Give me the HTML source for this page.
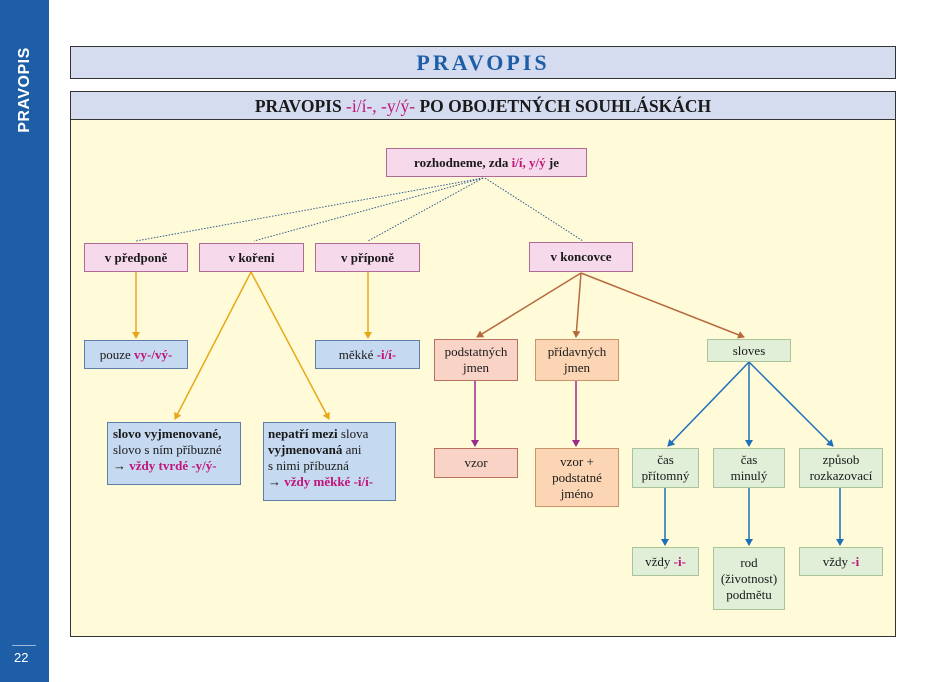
<!DOCTYPE html>
<html><head><meta charset="utf-8"><style>
*{margin:0;padding:0;box-sizing:border-box}
body{width:950px;height:682px;background:#fff;position:relative;overflow:hidden;font-family:"Liberation Serif",serif;color:#1a1a1a}
.side{position:absolute;left:0;top:0;width:49px;height:682px;background:#1d5ea6}
.stitle{position:absolute;left:25px;top:90px;transform:translate(-50%,-50%) rotate(-90deg);color:#fff;font:bold 16px "Liberation Sans",sans-serif;letter-spacing:0.5px;white-space:nowrap}
.pn{position:absolute;left:14px;top:650px;color:#fff;font:13px "Liberation Sans",sans-serif}
.pl{position:absolute;left:12px;top:645px;width:24px;height:1px;background:#9fb8d8}
.b{position:absolute;border:1px solid #888;display:flex;align-items:center;justify-content:center;text-align:center;font-size:13px;line-height:16px}
.m{color:#c0157a;font-weight:bold}
.pink{background:#f7d9ec;border-color:#b06a96;font-weight:bold}
.blue{background:#c5d9f0;border-color:#5f7fa8}
.sal{background:#f9d3c6;border-color:#b87060}
.or{background:#fbd5b4;border-color:#c8956a}
.gr{background:#e1eed8;border-color:#a9c49a}
</style></head><body>
<div class="side"></div><div class="stitle">PRAVOPIS</div><div class="pl"></div><div class="pn">22</div>
<div class="b" style="left:70px;top:46px;width:826px;height:33px;background:#d5dcf0;border:1px solid #333;color:#1d5ea6;font-weight:bold;font-size:22px;letter-spacing:3px">PRAVOPIS</div>
<div style="position:absolute;left:70px;top:91px;width:826px;height:546px;background:#fffbd9;border:1px solid #333"></div>
<div class="b" style="left:70px;top:91px;width:826px;height:29px;background:#d5dcf0;border:1px solid #333;font-weight:bold;font-size:17.5px">PRAVOPIS&nbsp;<span class="m" style="font-weight:normal">-i/í-, -y/ý-</span>&nbsp;PO OBOJETNÝCH SOUHLÁSKÁCH</div>
<svg style="position:absolute;left:0;top:0" width="950" height="682">
<defs>
<marker id="ao" markerWidth="8" markerHeight="8" refX="6" refY="4" orient="auto" markerUnits="userSpaceOnUse"><path d="M0,0L7,4L0,8z" fill="#e8a81a"/></marker>
<marker id="ab" markerWidth="8" markerHeight="8" refX="6" refY="4" orient="auto" markerUnits="userSpaceOnUse"><path d="M0,0L7,4L0,8z" fill="#b66a3c"/></marker>
<marker id="ap" markerWidth="8" markerHeight="8" refX="6" refY="4" orient="auto" markerUnits="userSpaceOnUse"><path d="M0,0L7,4L0,8z" fill="#9a2a8a"/></marker>
<marker id="al" markerWidth="8" markerHeight="8" refX="6" refY="4" orient="auto" markerUnits="userSpaceOnUse"><path d="M0,0L7,4L0,8z" fill="#1c6fb8"/></marker>
</defs>
<g stroke="#2f5a8a" stroke-width="1" stroke-dasharray="1.5,1.5" fill="none">
<line x1="483" y1="178" x2="136" y2="241"/><line x1="483" y1="178" x2="254" y2="241"/><line x1="483" y1="178" x2="368" y2="241"/><line x1="485" y1="178" x2="583" y2="241"/>
</g>
<g stroke="#e8a81a" stroke-width="1.5" marker-end="url(#ao)">
<line x1="136" y1="272" x2="136" y2="338"/><line x1="251" y1="272" x2="175" y2="419"/><line x1="251" y1="272" x2="329" y2="419"/><line x1="368" y1="272" x2="368" y2="338"/>
</g>
<g stroke="#b66a3c" stroke-width="1.5" marker-end="url(#ab)">
<line x1="581" y1="273" x2="477" y2="337"/><line x1="581" y1="273" x2="576" y2="337"/><line x1="581" y1="273" x2="744" y2="337"/>
</g>
<g stroke="#9a2a8a" stroke-width="1.5" marker-end="url(#ap)">
<line x1="475" y1="381" x2="475" y2="446"/><line x1="576" y1="381" x2="576" y2="446"/>
</g>
<g stroke="#1c6fb8" stroke-width="1.5" marker-end="url(#al)">
<line x1="749" y1="362" x2="668" y2="446"/><line x1="749" y1="362" x2="749" y2="446"/><line x1="749" y1="362" x2="833" y2="446"/>
<line x1="665" y1="488" x2="665" y2="545"/><line x1="749" y1="488" x2="749" y2="545"/><line x1="840" y1="488" x2="840" y2="545"/>
</g>
</svg>
<div class="b pink" style="left:386px;top:148px;width:201px;height:29px">rozhodneme, zda&nbsp;<span class="m">i/í, y/ý</span>&nbsp;je</div>
<div class="b pink" style="left:84px;top:243px;width:104px;height:29px">v předponě</div>
<div class="b pink" style="left:199px;top:243px;width:105px;height:29px">v kořeni</div>
<div class="b pink" style="left:315px;top:243px;width:105px;height:29px">v příponě</div>
<div class="b pink" style="left:529px;top:242px;width:104px;height:30px">v koncovce</div>
<div class="b blue" style="left:84px;top:340px;width:104px;height:29px">pouze&nbsp;<span class="m">vy-/vý-</span></div>
<div class="b blue" style="left:315px;top:340px;width:105px;height:29px">měkké&nbsp;<span class="m">-i/í-</span></div>
<div class="b blue" style="left:107px;top:422px;width:134px;height:63px;display:block;text-align:left;padding:3px 0 0 5px"><b>slovo vyjmenované,</b><br>slovo s ním příbuzné<br>→ <span class="m">vždy tvrdé -y/ý-</span></div>
<div class="b blue" style="left:263px;top:422px;width:133px;height:79px;display:block;text-align:left;padding:3px 0 0 4px"><b>nepatří mezi</b> slova<br><b>vyjmenovaná</b> ani<br>s nimi příbuzná<br>→ <span class="m">vždy měkké -i/í-</span></div>
<div class="b sal" style="left:434px;top:339px;width:84px;height:42px">podstatných<br>jmen</div>
<div class="b or" style="left:535px;top:339px;width:84px;height:42px">přídavných<br>jmen</div>
<div class="b gr" style="left:707px;top:339px;width:84px;height:23px">sloves</div>
<div class="b sal" style="left:434px;top:448px;width:84px;height:30px">vzor</div>
<div class="b or" style="left:535px;top:448px;width:84px;height:59px">vzor +<br>podstatné<br>jméno</div>
<div class="b gr" style="left:632px;top:448px;width:67px;height:40px">čas<br>přítomný</div>
<div class="b gr" style="left:713px;top:448px;width:72px;height:40px">čas<br>minulý</div>
<div class="b gr" style="left:799px;top:448px;width:84px;height:40px">způsob<br>rozkazovací</div>
<div class="b gr" style="left:632px;top:547px;width:67px;height:29px">vždy&nbsp;<span class="m">-i-</span></div>
<div class="b gr" style="left:713px;top:547px;width:72px;height:63px">rod<br>(životnost)<br>podmětu</div>
<div class="b gr" style="left:799px;top:547px;width:84px;height:29px">vždy&nbsp;<span class="m">-i</span></div>
</body></html>
